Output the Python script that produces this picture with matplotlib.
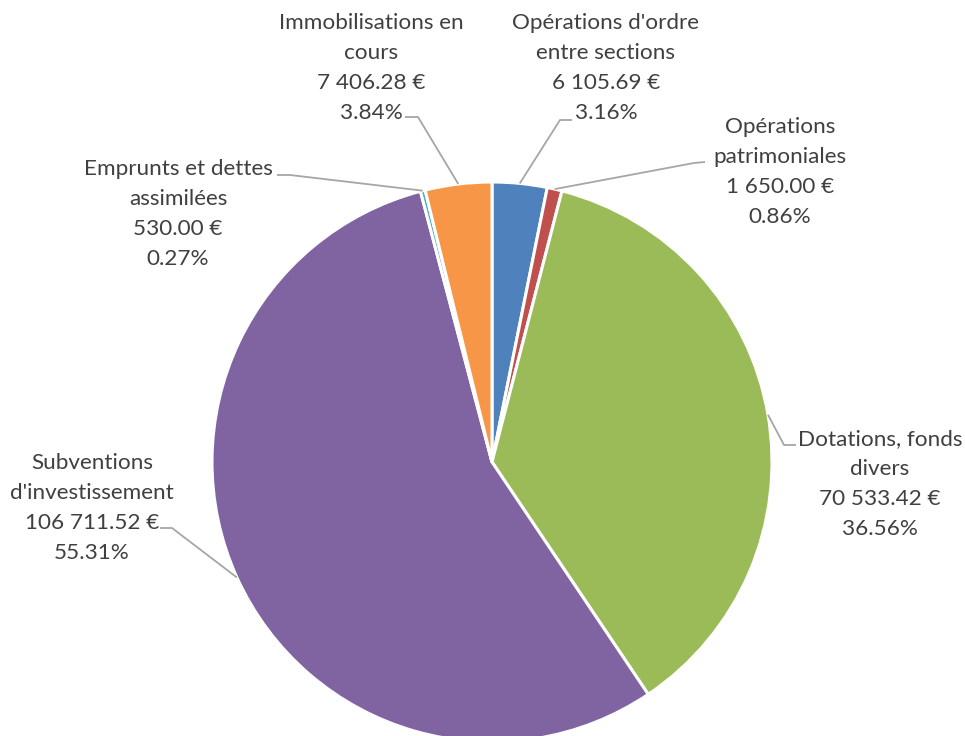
import numpy as np
import matplotlib
matplotlib.use("Agg")
import matplotlib.pyplot as plt

# ---- data ----
categories = ["Opérations d'ordre\nentre sections",
              "Opérations\npatrimoniales",
              "Dotations, fonds\ndivers",
              "Subventions\nd'investissement",
              "Emprunts et dettes\nassimilées",
              "Immobilisations en\ncours"]
values = [6105.69, 1650.00, 70533.42, 106711.52, 530.00, 7406.28]
colors = ["#4F81BD", "#C0504D", "#9BBB59", "#8064A2", "#4BACC6", "#F79646"]

# ---- layout (pixel coords, y down) ----
W, H = 965, 736
cx, cy, R = 492, 462, 280
text_pos = [(606, 68), (780, 172), (880, 484), (92, 508), (178, 214), (371, 68)]
line_end = [(572, 120), (705, 162), (796, 445), (160, 528), (277, 175), (405, 117)]
elbow = [(560, 120), (694, 163), (784, 445), (172, 528), (290, 175), (418, 117)]

fig = plt.figure(figsize=(W / 100, H / 100), dpi=100)
ax = fig.add_axes([0, 0, 1, 1])

def Y(y):
    return H - y

wedges, _ = ax.pie(values, colors=colors, startangle=90, counterclock=False,
                   center=(cx, Y(cy)), radius=R,
                   wedgeprops=dict(edgecolor="white", linewidth=2.2))

total = sum(values)
for i, (w, v) in enumerate(zip(wedges, values)):
    ang = np.deg2rad((w.theta1 + w.theta2) / 2)
    px = cx + R * np.cos(ang)
    py = Y(cy) + R * np.sin(ang)
    ex, ey = elbow[i]
    lx, ly = line_end[i]
    ax.plot([px, ex, lx], [py, Y(ey), Y(ly)], color="#A6A6A6", lw=1.3,
            solid_capstyle="butt", zorder=1)
    amount = f"{v:,.2f}".replace(",", " ") + " €"
    pct = f"{v / total * 100:.2f}%"
    tx, ty = text_pos[i]
    ax.text(tx, Y(ty), f"{categories[i]}\n{amount}\n{pct}", ha="center", va="center",
            fontsize=16.2, color="#404040", family=["Lato", "DejaVu Sans"],
            linespacing=1.62)

ax.set_xlim(0, W)
ax.set_ylim(0, H)
ax.set_aspect("equal")
ax.axis("off")

fig.savefig("out.png", dpi=100)
